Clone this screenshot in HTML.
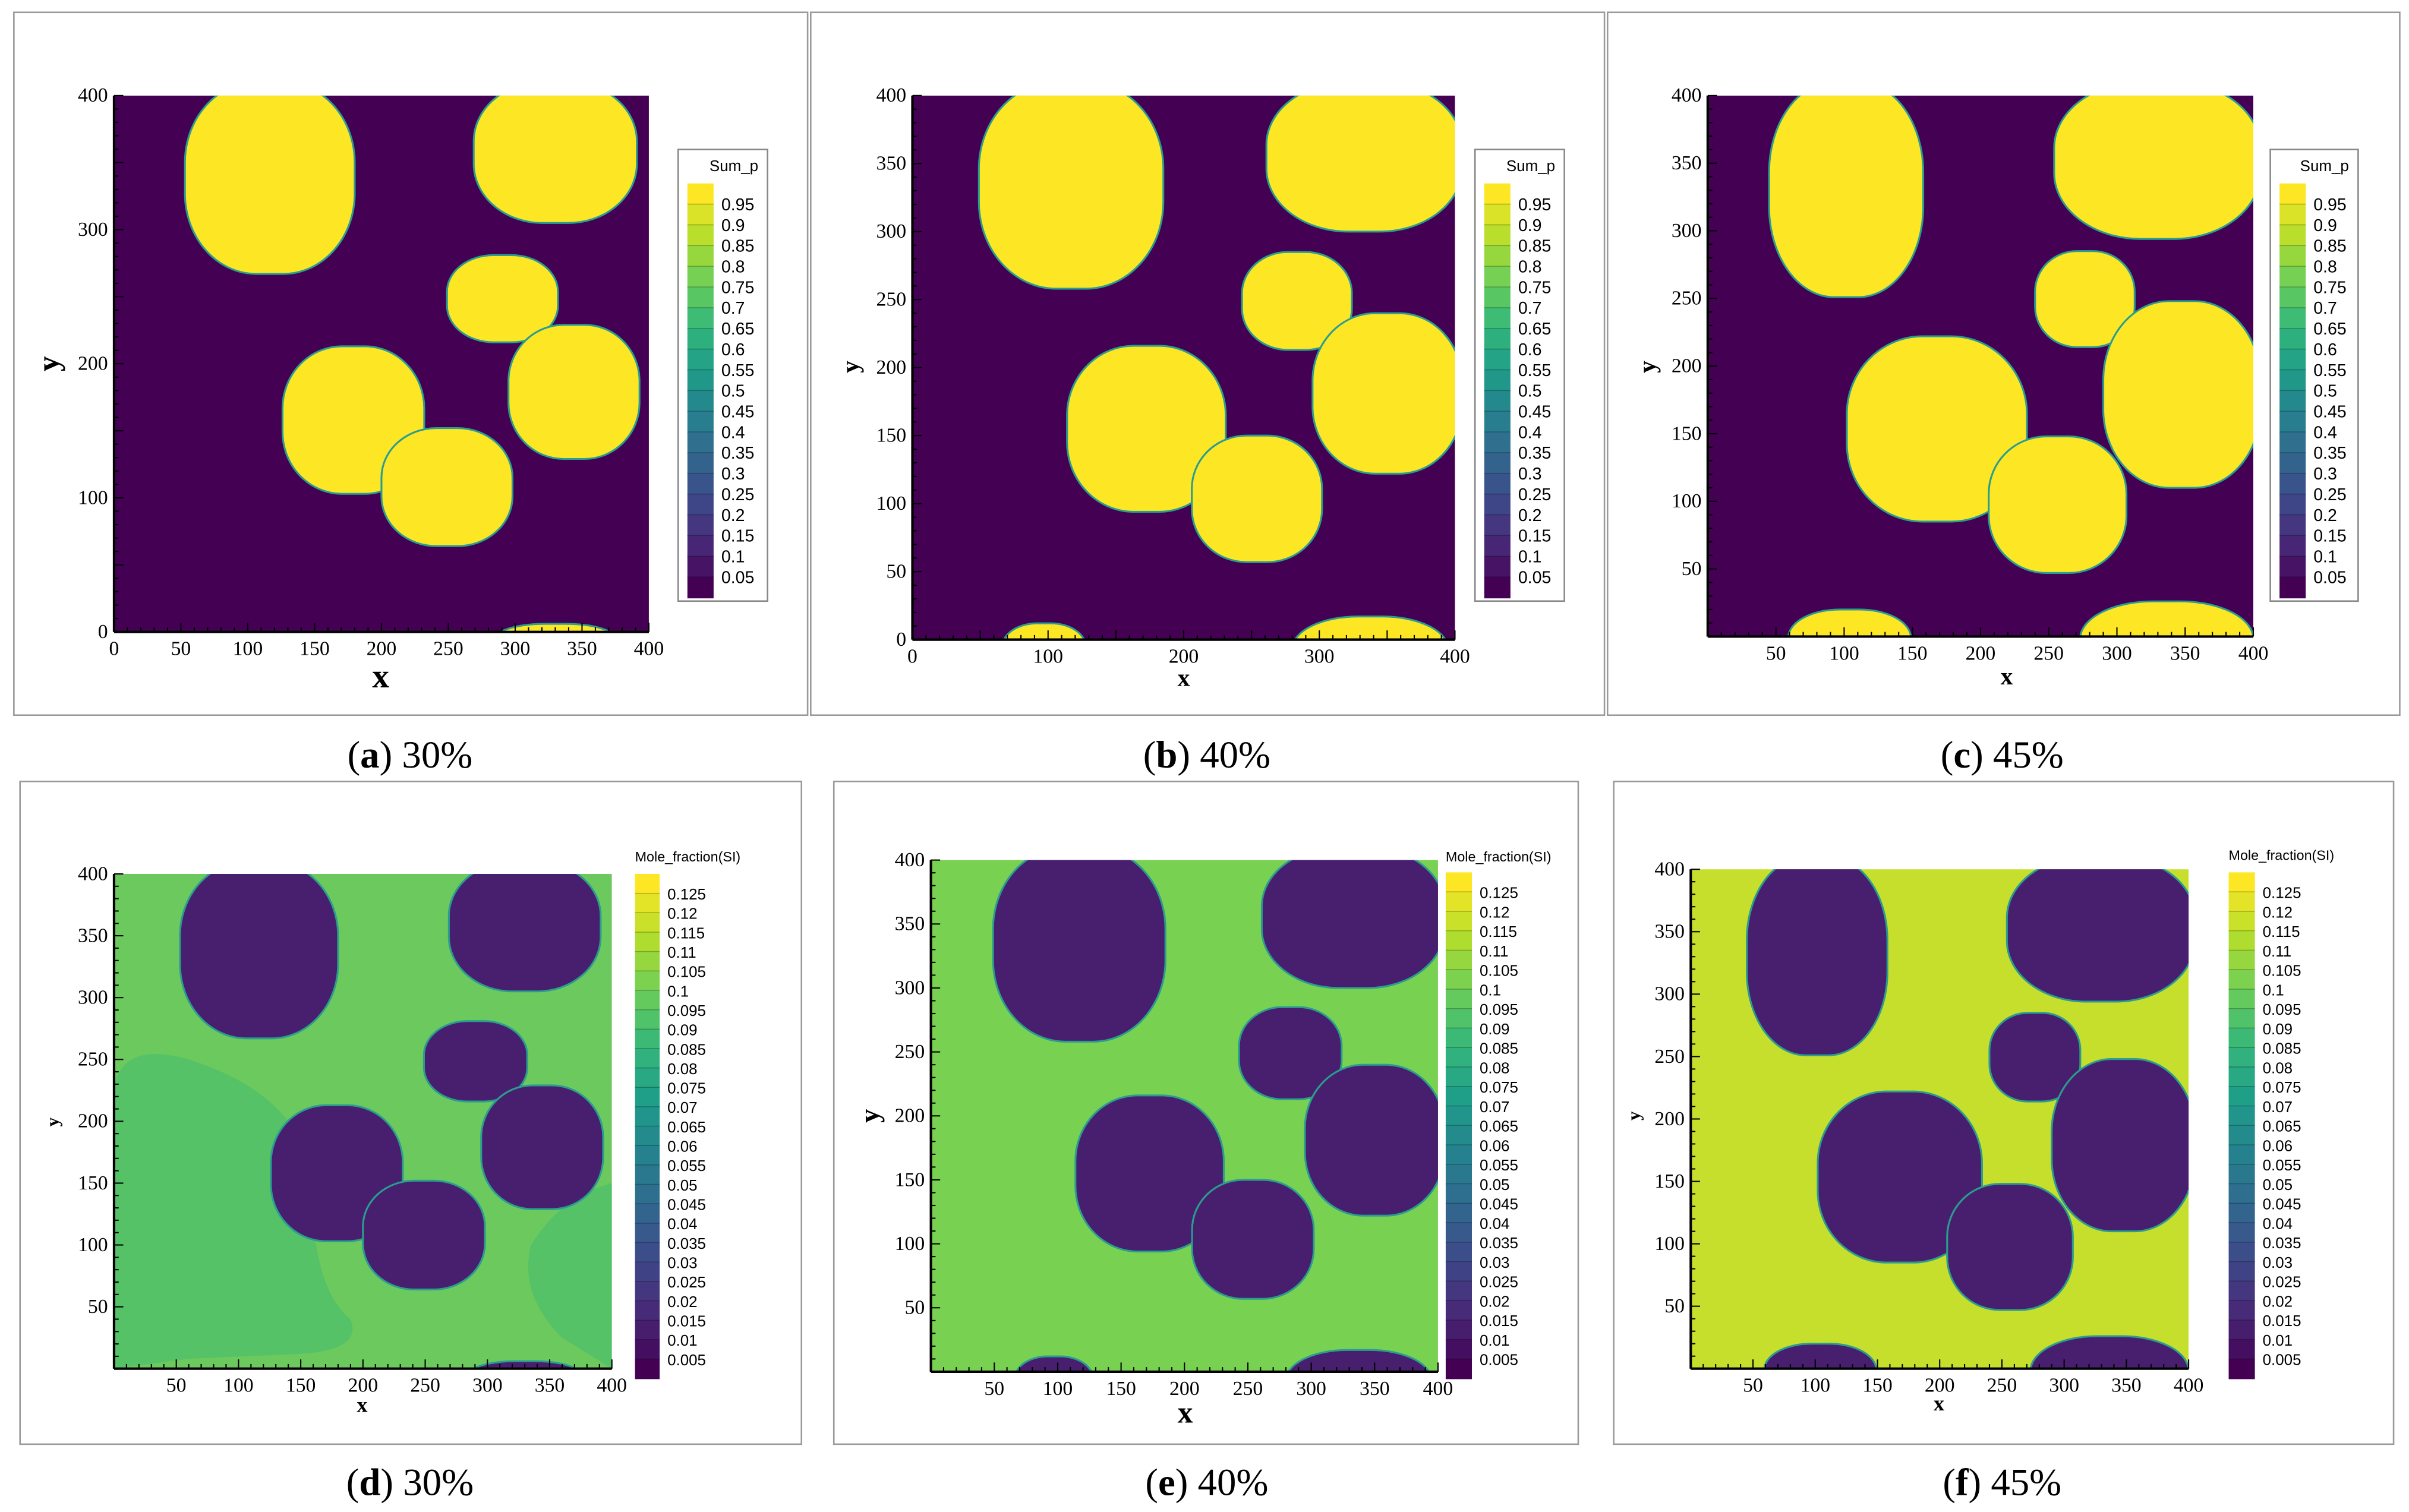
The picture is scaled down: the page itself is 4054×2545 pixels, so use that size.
<!DOCTYPE html>
<html><head><meta charset="utf-8"><style>
html,body{margin:0;padding:0;background:#fff;}
svg{display:block;}
text{font-family:"Liberation Sans",sans-serif;}
.serif{font-family:"Liberation Serif",serif;}
</style></head><body>
<svg id="fig" width="4054" height="2545" viewBox="0 0 1563 981" preserveAspectRatio="none" xmlns="http://www.w3.org/2000/svg"></svg>
<script>
// Blob (particle) extents in data coords [x0,x1,y0,y1]
const blobs30 = [[53,180,267,410],[269,391,305,410],[249,332,216,281],[295,393,129,229],[126,232,103,213],[200,298,64,152],[285,375,-20,6]];
const blobs40 = [[49,185,258,410],[261,405,300,410],[243,324,213,285],[295,405,122,240],[114,231,94,216],[206,302,57,150],[66,128,-30,12],[280,395,-40,17]];
const blobs45 = [[45,158,251,410],[254,405,294,410],[240,313,214,285],[290,405,110,248],[102,234,85,222],[206,307,47,148],[59,149,-30,20],[273,400,-40,26]];
const sumLabels = ["0.95","0.9","0.85","0.8","0.75","0.7","0.65","0.6","0.55","0.5","0.45","0.4","0.35","0.3","0.25","0.2","0.15","0.1","0.05"];
const moleLabels = ["0.125","0.12","0.115","0.11","0.105","0.1","0.095","0.09","0.085","0.08","0.075","0.07","0.065","0.06","0.055","0.05","0.045","0.04","0.035","0.03","0.025","0.02","0.015","0.01","0.005"];
const captions = [["a","30%"],["b","40%"],["c","45%"],["d","30%"],["e","40%"],["f","45%"]];

const NS="http://www.w3.org/2000/svg";
const svg=document.getElementById('fig');
function mk(tag,attrs,parent){const e=document.createElementNS(NS,tag);for(const k in attrs)e.setAttribute(k,attrs[k]);(parent||svg).appendChild(e);return e;}
const vir=["#440154","#482878","#3e4989","#31688e","#26828e","#1f9e89","#35b779","#6ece58","#b5de2b","#fde725"];
function hx(c){return [1,3,5].map(i=>parseInt(c.substr(i,2),16));}
function viridis(t){t=Math.max(0,Math.min(1,t));const p=t*9,i=Math.min(8,Math.floor(p)),f=p-i;const a=hx(vir[i]),b=hx(vir[i+1]);return "rgb("+a.map((v,k)=>Math.round(v+(b[k]-v)*f)).join(",")+")";}

const panels=[
 {box:[9,8,515,456],pl:[74,62,421,410],xt:[0,50,100,150,200,250,300,350,400],yt:[0,100,200,300,400],blobs:blobs30,bg:"#440154",fg:"#fde725",leg:"sum",lb:[440,97,58,293],bar:[446,119,17,262],xl:[247,446,22],yl:[38,236,20],cap:[266,490]},
 {box:[526,8,515,456],pl:[592,62,944,415],xt:[0,100,200,300,400],yt:[0,50,100,150,200,250,300,350,400],blobs:blobs40,bg:"#440154",fg:"#fde725",leg:"sum",lb:[957,97,58,293],bar:[963,119,17,262],xl:[768,445,16],yl:[557,238,16],cap:[783,490]},
 {box:[1043,8,514,456],pl:[1108,62,1462,413],xt:[50,100,150,200,250,300,350,400],yt:[50,100,150,200,250,300,350,400],blobs:blobs45,bg:"#440154",fg:"#fde725",leg:"sum",lb:[1473,97,57,293],bar:[1479,119,17,262],xl:[1302,444,16],yl:[1074,238,16],cap:[1299,490]},
 {box:[13,507,507,430],pl:[74,567,397,888],xt:[50,100,150,200,250,300,350,400],yt:[50,100,150,200,250,300,350,400],blobs:blobs30,bg:"#6cc95e",fg:"#481f6e",leg:"mole",bar:[412,567,16,321],title:[412,559],xl:[235,916,14],yl:[38,728,12],cap:[266,962],patch:true},
 {box:[541,507,483,430],pl:[604,558,933,890],xt:[50,100,150,200,250,300,350,400],yt:[50,100,150,200,250,300,350,400],blobs:blobs40,bg:"#79d152",fg:"#481f6e",leg:"mole",bar:[938,566,17,322],title:[938,559],xl:[769,923,20],yl:[570,724,18],cap:[783,962]},
 {box:[1047,507,506,430],pl:[1097,564,1420,888],xt:[50,100,150,200,250,300,350,400],yt:[50,100,150,200,250,300,350,400],blobs:blobs45,bg:"#c6df2c",fg:"#481f6e",leg:"mole",bar:[1446,566,17,322],title:[1446,558],xl:[1258,915,14],yl:[1064,724,12],cap:[1299,962]}
];

panels.forEach((p,pi)=>{
  const g=mk('g',{});
  
  
  const fr=mk('rect',{x:p.box[0],y:p.box[1],width:p.box[2],height:p.box[3],fill:'none',stroke:'#9a9a9a','stroke-width':1},g);
  
  
  const [x0,y0,x1,y1]=p.pl;
  const sx=d=>x0+d*(x1-x0)/400, sy=d=>y1-d*(y1-y0)/400;
  const cid='clip'+pi;
  const cp=mk('clipPath',{id:cid},g);mk('rect',{x:x0,y:y0,width:x1-x0,height:y1-y0},cp);
  const pa=mk('g',{'clip-path':'url(#'+cid+')'},g);
  const bgR=mk('rect',{x:x0,y:y0,width:x1-x0,height:y1-y0,fill:p.bg},pa);
  
  
  if(p.patch){
    mk('path',{d:`M${sx(0)},${sy(0)} L${sx(0)},${sy(230)} Q${sx(10)},${sy(265)} ${sx(60)},${sy(250)} Q${sx(170)},${sy(215)} ${sx(160)},${sy(120)} Q${sx(165)},${sy(60)} ${sx(190)},${sy(40)} Q${sx(200)},${sy(15)} ${sx(150)},${sy(12)} L${sx(60)},${sy(8)} Z`,fill:'#55c267'},pa);
    mk('path',{d:`M${sx(400)},${sy(0)} L${sx(360)},${sy(25)} Q${sx(325)},${sy(60)} ${sx(335)},${sy(100)} Q${sx(360)},${sy(140)} ${sx(400)},${sy(150)} Z`,fill:'#55c267'},pa);
  }
  p.blobs.forEach((b,bi)=>{
    const X=sx(b[0]),Y=sy(b[3]),W=sx(b[1])-X,H=sy(b[2])-Y;
    const e=mk('rect',{x:X,y:Y,width:W,height:H,rx:W*0.42,ry:H*0.42,fill:p.fg,stroke:'#2a9d8f','stroke-width':1.2},pa);
    
    
  });
  mk('line',{x1:x0,y1:y0,x2:x0,y2:y1,stroke:'#000','stroke-width':1.6},g);
  mk('line',{x1:x0,y1:y1,x2:x1,y2:y1,stroke:'#000','stroke-width':1.6},g);
  for(let v=0;v<=400;v+=10){
    const big=v%50===0;
    mk('line',{x1:sx(v),y1:y1,x2:sx(v),y2:y1-(big?6:3),stroke:'#000','stroke-width':0.8},g);
    mk('line',{x1:x0,y1:sy(v),x2:x0+(big?6:3),y2:sy(v),stroke:'#000','stroke-width':0.8},g);
  }
  p.xt.forEach(v=>{const t=mk('text',{x:sx(v),y:y1+15,'font-size':13,'text-anchor':'middle',class:'serif'},g);t.textContent=v;
    });
  p.yt.forEach(v=>{const t=mk('text',{x:x0-4,y:sy(v)+4,'font-size':13,'text-anchor':'end',class:'serif'},g);t.textContent=v;
    });
  const xl=mk('text',{x:p.xl[0],y:p.xl[1],'font-size':p.xl[2],'font-weight':'bold','text-anchor':'middle',class:'serif'},g);xl.textContent='x';
  
  const yl=mk('text',{x:p.yl[0],y:p.yl[1],'font-size':p.yl[2],'font-weight':'bold','text-anchor':'middle',class:'serif',transform:`rotate(-90 ${p.yl[0]} ${p.yl[1]})`},g);yl.textContent='y';
  
  const lg=mk('g',{},g);
  
  
  const labels=p.leg==='sum'?sumLabels:moleLabels;
  const n=labels.length, [bx,by,bw,bh]=p.bar, step=bh/(n+0.5);
  if(p.leg==='sum'){
    mk('rect',{x:p.lb[0],y:p.lb[1],width:p.lb[2],height:p.lb[3],fill:'#fff',stroke:'#888','stroke-width':1},lg);
    const t=mk('text',{x:p.lb[0]+p.lb[2]-6,y:p.lb[1]+14,'font-size':10,'text-anchor':'end'},lg);t.textContent='Sum_p';
    
  } else {
    const t=mk('text',{x:p.title[0],y:p.title[1],'font-size':9},lg);t.textContent='Mole_fraction(SI)';
    
  }
  for(let i=0;i<=n;i++){
    mk('rect',{x:bx,y:by+i*step,width:bw,height:step+0.5,fill:viridis(1-i/n)},lg);
  }
  for(let i=0;i<n;i++){
    mk('line',{x1:bx,y1:by+(i+1)*step,x2:bx+bw,y2:by+(i+1)*step,stroke:'rgba(0,0,0,0.25)','stroke-width':0.6},lg);
    const t=mk('text',{x:bx+bw+5,y:by+(i+1)*step+4,'font-size':p.leg==='sum'?11:10},lg);t.textContent=labels[i];
    
  }
  const c=mk('text',{x:p.cap[0],y:p.cap[1]+8,'font-size':25,'text-anchor':'middle',class:'serif'});
  
  
  c.innerHTML='('+'<tspan font-weight="bold">'+captions[pi][0]+'</tspan>) '+captions[pi][1];
});
</script>
</body></html>
